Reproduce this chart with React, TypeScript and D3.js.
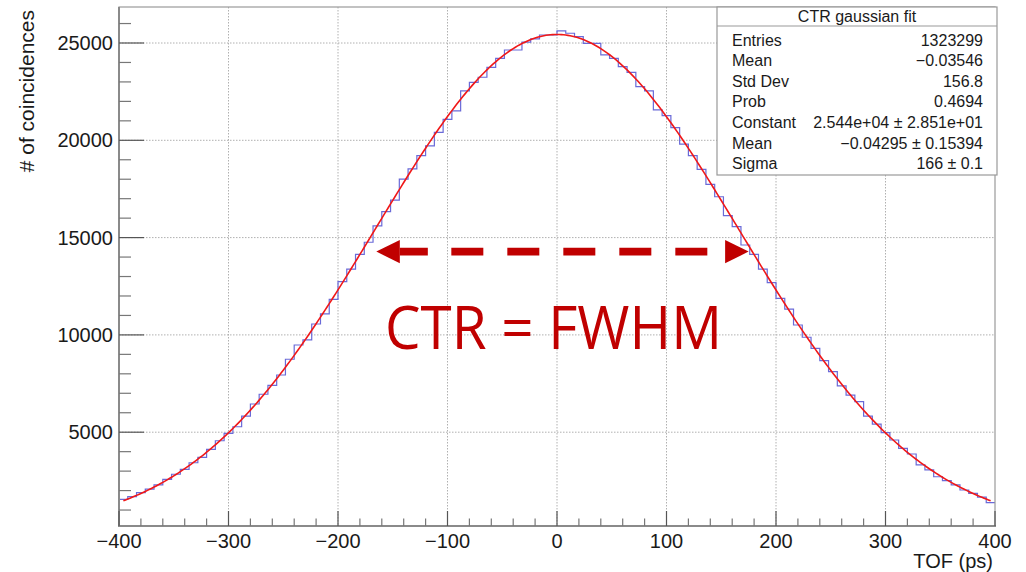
import React from 'react';
import * as d3 from 'd3';

// ---- data ----
const binStart = -400;
const binWidth = 8;
const counts = [
  1550, 1690, 1890, 2070, 2290, 2580, 2840, 3090, 3430, 3710,
  4120, 4560, 4940, 5280, 5830, 6450, 6950, 7410, 7940, 8750,
  9480, 9740, 10560, 11080, 11830, 12740, 13380, 14140, 14760, 15600,
  16330, 16930, 18010, 18530, 19210, 19710, 20410, 21080, 21510, 22540,
  22980, 23240, 23750, 24210, 24640, 24640, 25040, 25210, 25410, 25410,
  25620, 25500, 25330, 24980, 24980, 24390, 24210, 23790, 23490, 22760,
  22540, 21560, 21270, 20650, 19800, 19210, 18510, 17740, 17100, 16130,
  15560, 14620, 14140, 13380, 12690, 11880, 11320, 10510, 9880, 9310,
  8680, 8110, 7380, 6910, 6570, 5830, 5420, 4980, 4600, 4170,
  3880, 3320, 3060, 2710, 2510, 2290, 2030, 1860, 1660, 1380,
];
const xTicks = [-400, -300, -200, -100, 0, 100, 200, 300, 400];
const xMinorStep = 20;
const yTicks = [5000, 10000, 15000, 20000, 25000];
const yMinorStep = 1000;
const xDomain = [-400, 400];
const yDomain = [180, 26850];

const fitConstant = 25440;
const fitMean = -0.04295;
const fitSigma = 166;
const fitRange = [-396, 396];

const statsTitle = 'CTR gaussian fit';
const statsLabels = ['Entries', 'Mean', 'Std Dev', 'Prob', 'Constant', 'Mean', 'Sigma'];
const statsValues = [
  '1323299',
  '\u22120.03546',
  '156.8',
  '0.4694',
  '2.544e+04 \u00b1 2.851e+01',
  '\u22120.04295 \u00b1 0.15394',
  '166 \u00b1 0.1',
];

const arrowRange = [-165, 175];
const arrowLevel = 14280;
const annotation = 'CTR = FWHM';
const xTitle = 'TOF (ps)';
const yTitle = '# of coincidences';

// ---- layout ----
const W = 1026;
const H = 572;
const L = 119, R = 995, T = 7, B = 526;
const FONT = '"Liberation Sans", Arial, Helvetica, sans-serif';
const DARKRED = '#c00000';

export default function App() {
  const x = d3.scaleLinear().domain(xDomain).range([L, R]);
  const y = d3.scaleLinear().domain(yDomain).range([B, T]);

  // histogram step outline
  const pts: [number, number][] = [];
  counts.forEach((c, i) => {
    const lo = binStart + i * binWidth;
    pts.push([x(lo), y(c)]);
    pts.push([x(lo + binWidth), y(c)]);
  });
  const histPath = d3.line()(pts) || '';

  // gaussian fit curve from fit parameters
  const fitXs = d3.range(fitRange[0], fitRange[1] + 0.001, 2);
  const fitPath =
    d3
      .line<number>()
      .x((v) => x(v))
      .y((v) => y(fitConstant * Math.exp(-0.5 * ((v - fitMean) / fitSigma) ** 2)))(fitXs) || '';

  const xMinor = d3.range(xDomain[0], xDomain[1] + 0.001, xMinorStep).filter((v) => v % 100 !== 0);
  const yMinor = d3.range(yMinorStep, yDomain[1], yMinorStep).filter((v) => v % 5000 !== 0 && v > yDomain[0]);

  const fmt = (v: number) => (v < 0 ? '\u2212' + Math.abs(v) : String(v));

  // arrow geometry
  const ay = y(arrowLevel);
  const ax0 = x(arrowRange[0]);
  const ax1 = x(arrowRange[1]);
  const headLen = 23.5;
  const headHalf = 11.7;

  // stats box
  const sbL = 717, sbR = 997, sbT = 7, sbB = 175, sbSep = 26;
  const rowY0 = 45.5, rowStep = 20.6;

  return (
    <svg
      width={W}
      height={H}
      style={{ position: 'absolute', left: 0, top: 0, background: '#fff' }}
      fontFamily={FONT}
    >
      <rect x={0} y={0} width={W} height={H} fill="#fff" />

      {/* grid */}
      {xTicks.filter((t) => t > xDomain[0] && t < xDomain[1]).map((t) => (
        <line key={'gx' + t} x1={x(t)} x2={x(t)} y1={T} y2={B} stroke="#b0b0b0" strokeWidth={1} strokeDasharray="1.5 1.5" />
      ))}
      {yTicks.map((t) => (
        <line key={'gy' + t} x1={L} x2={R} y1={y(t)} y2={y(t)} stroke="#b0b0b0" strokeWidth={1} strokeDasharray="1.5 1.5" />
      ))}

      {/* histogram */}
      <path d={histPath} fill="none" stroke="#6a6ad8" strokeWidth={1.2} />

      {/* fit */}
      <path d={fitPath} fill="none" stroke="#f01818" strokeWidth={1.6} />

      {/* frame */}
      <rect x={L} y={T} width={R - L} height={B - T} fill="none" stroke="#9a9a9a" strokeWidth={1.2} />
      <line x1={L} x2={L} y1={T} y2={B + 1} stroke="#8a8a8a" strokeWidth={2} />
      <line x1={L - 1} x2={R + 1} y1={B} y2={B} stroke="#8a8a8a" strokeWidth={2} />

      {/* y ticks */}
      {yTicks.map((t) => (
        <g key={'yt' + t}>
          <line x1={L} x2={L + 25} y1={y(t)} y2={y(t)} stroke="#555" strokeWidth={1.2} />
          <text x={113} y={y(t) + 7} textAnchor="end" fontSize={20} fill="#1a1a1a">
            {fmt(t)}
          </text>
        </g>
      ))}
      {yMinor.map((t) => (
        <line key={'ym' + t} x1={L} x2={L + 12} y1={y(t)} y2={y(t)} stroke="#777" strokeWidth={1.2} />
      ))}

      {/* x ticks */}
      {xTicks.map((t) => (
        <g key={'xt' + t}>
          <line x1={x(t)} x2={x(t)} y1={B} y2={B - 15} stroke="#555" strokeWidth={1.2} />
          <text x={x(t)} y={548} textAnchor="middle" fontSize={20} fill="#1a1a1a">
            {fmt(t)}
          </text>
        </g>
      ))}
      {xMinor.map((t) => (
        <line key={'xm' + t} x1={x(t)} x2={x(t)} y1={B} y2={B - 7.5} stroke="#777" strokeWidth={1.2} />
      ))}

      {/* axis titles */}
      <text x={993} y={568} textAnchor="end" fontSize={20} fill="#1a1a1a">
        {xTitle}
      </text>
      <text
        transform={`translate(34, 10) rotate(-90)`}
        textAnchor="end"
        fontSize={21}
        fill="#1a1a1a"
      >
        {yTitle}
      </text>

      {/* stats box */}
      <rect x={sbL} y={sbT} width={sbR - sbL} height={sbB - sbT} fill="#fff" stroke="#999" strokeWidth={1.2} />
      <line x1={sbL} x2={sbR} y1={sbSep} y2={sbSep} stroke="#999" strokeWidth={1.2} />
      <text x={(sbL + sbR) / 2} y={22} textAnchor="middle" fontSize={16} fill="#1a1a1a">
        {statsTitle}
      </text>
      {statsLabels.map((lab, i) => (
        <g key={'st' + i}>
          <text x={732} y={rowY0 + i * rowStep} fontSize={16} fill="#1a1a1a">
            {lab}
          </text>
          <text x={983} y={rowY0 + i * rowStep} textAnchor="end" fontSize={16} fill="#1a1a1a">
            {statsValues[i]}
          </text>
        </g>
      ))}

      {/* FWHM arrow */}
      <line
        x1={ax0 + headLen}
        x2={ax1 - headLen}
        y1={ay}
        y2={ay}
        stroke={DARKRED}
        strokeWidth={7.7}
        strokeDasharray="28 23.5 32 24 32 24 32 24 32 24 32 24"
      />
      <polygon
        points={`${ax0},${ay} ${ax0 + headLen},${ay - headHalf} ${ax0 + headLen},${ay + headHalf}`}
        fill={DARKRED}
      />
      <polygon
        points={`${ax1},${ay} ${ax1 - headLen},${ay - headHalf} ${ax1 - headLen},${ay + headHalf}`}
        fill={DARKRED}
      />

      {/* annotation */}
      <text
        x={385}
        y={349}
        fontSize={60}
        fill={DARKRED}
        fontFamily='"Open Sans", "Noto Sans", sans-serif'
        textLength={337}
        lengthAdjust="spacingAndGlyphs"
      >
        {annotation}
      </text>
    </svg>
  );
}
